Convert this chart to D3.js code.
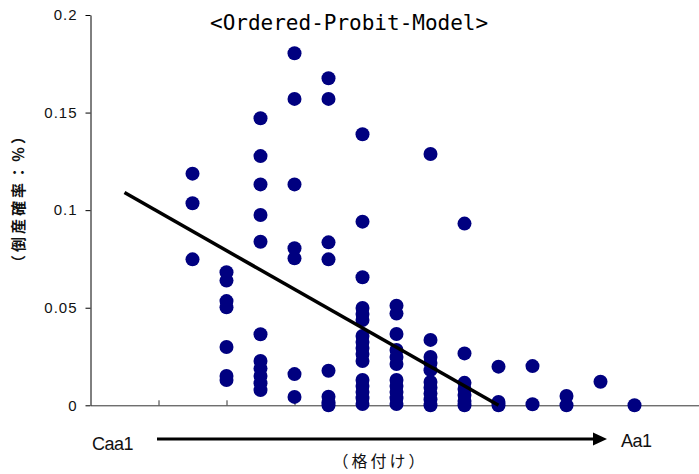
<!DOCTYPE html>
<html>
<head>
<meta charset="utf-8">
<script src="https://cdn.jsdelivr.net/npm/d3@7"></script>
<style>
  html, body { margin: 0; padding: 0; background: #fff; }
  svg { display: block; }
  .cjk { font-family: 'Noto Sans CJK JP', 'Noto Sans CJK SC', sans-serif; }
</style>
</head>
<body>
<svg id="chart" width="699" height="474"></svg>
<script>
// ---- data ----
const chartTitle = "<Ordered-Probit-Model>";
const yAxisTitle = "（倒産確率：％）";
const xAxisTitle = "（格付け）";
const lowRatingLabel = "Caa1";
const highRatingLabel = "Aa1";
const yTickValues = [0, 0.05, 0.1, 0.15, 0.2];
const yTickLabels = ["0", "0.05", "0.1", "0.15", "0.2"];
const xTickValues = [2, 4, 6, 8, 10, 12, 14, 16];
const ratingIndex = [3, 4, 5, 6, 7, 8, 9, 10, 11, 12, 13, 14, 15, 16];
const defaultProb = [
  [0.1187, 0.1035, 0.0748],
  [0.0682, 0.0639, 0.0534, 0.0502, 0.0299, 0.0150, 0.0130],
  [0.1471, 0.1277, 0.1132, 0.0975, 0.0838, 0.0364, 0.0227, 0.0188, 0.0150, 0.0113, 0.0078],
  [0.1804, 0.1570, 0.1132, 0.0805, 0.0753, 0.0160, 0.0043],
  [0.1676, 0.1570, 0.0835, 0.0748, 0.0177, 0.0044, 0.0015, 0.0],
  [0.1389, 0.0941, 0.0656, 0.0499, 0.0468, 0.0437, 0.0355, 0.0324, 0.0294, 0.0263, 0.0227, 0.0130, 0.0099, 0.0068, 0.0037, 0.0007],
  [0.0510, 0.0470, 0.0365, 0.0284, 0.0248, 0.0212, 0.0130, 0.0099, 0.0068, 0.0037, 0.0007],
  [0.1288, 0.0335, 0.0248, 0.0217, 0.0180, 0.0120, 0.0090, 0.0060, 0.0030, 0.0],
  [0.0931, 0.0266, 0.0115, 0.0084, 0.0053, 0.0022, 0.0],
  [0.0198, 0.0017, 0.0],
  [0.0201, 0.0005],
  [0.0048, 0.0],
  [0.0121],
  [0.0]
];
const fitLineX = [1, 12];
const fitLineY = [0.109, 0];

// ---- drawing ----
const svg = d3.select("#chart");
const x = d3.scaleLinear().domain([0, 18]).range([90.5, 702.5]);
const y = d3.scaleLinear().domain([0, 0.2]).range([405.3, 15]);

const points = [];
ratingIndex.forEach((r, i) => defaultProb[i].forEach(v => points.push({ x: r, y: v })));

// y axis
const yAxis = svg.append("g")
  .attr("transform", `translate(${x(0)},0)`)
  .call(d3.axisLeft(y).tickValues(yTickValues)
    .tickFormat((d, i) => yTickLabels[i]).tickSizeInner(5).tickSizeOuter(0).tickPadding(8));
yAxis.select(".domain").attr("stroke", "#000");
yAxis.selectAll(".tick line").attr("stroke", "#000");
yAxis.selectAll("text")
  .attr("font-family", "Liberation Sans, Arial, sans-serif")
  .attr("font-size", 15)
  .attr("letter-spacing", "1px")
  .attr("fill", "#111");

// x axis
const xAxis = svg.append("g")
  .attr("transform", `translate(0,${y(0)})`)
  .call(d3.axisBottom(x).tickValues(xTickValues).tickFormat("")
    .tickSizeInner(-5).tickSizeOuter(0));
xAxis.select(".domain").attr("stroke", "#333");
xAxis.selectAll(".tick line").attr("stroke", "#333");

// dots
svg.append("g").selectAll("circle")
  .data(points)
  .join("circle")
  .attr("cx", d => x(d.x))
  .attr("cy", d => y(d.y))
  .attr("r", 7)
  .attr("fill", "#000080");

// regression line
svg.append("line")
  .attr("x1", x(fitLineX[0])).attr("y1", y(fitLineY[0]))
  .attr("x2", x(fitLineX[1])).attr("y2", y(fitLineY[1]))
  .attr("stroke", "#000").attr("stroke-width", 3.5);

// title
svg.append("text")
  .attr("x", 210).attr("y", 30)
  .attr("font-family", "DejaVu Sans Mono, monospace")
  .attr("font-size", 21)
  .attr("fill", "#000")
  .text(chartTitle);

// y title
svg.append("text")
  .attr("class", "cjk")
  .attr("transform", "translate(24,198) rotate(-90)")
  .attr("text-anchor", "middle")
  .attr("font-size", 15)
  .attr("font-weight", "bold")
  .attr("letter-spacing", "3px")
  .attr("fill", "#111")
  .text(yAxisTitle);

// rating arrow
const arrowY = 439;
svg.append("line")
  .attr("x1", 157).attr("y1", arrowY)
  .attr("x2", 596).attr("y2", arrowY)
  .attr("stroke", "#000").attr("stroke-width", 3);
svg.append("path")
  .attr("d", `M593,${arrowY - 6.5} L607,${arrowY} L593,${arrowY + 6.5} Z`)
  .attr("fill", "#000");

svg.append("text")
  .attr("x", 92).attr("y", 450)
  .attr("font-family", "Liberation Sans, Arial, sans-serif")
  .attr("font-size", 18)
  .attr("letter-spacing", "-0.5px")
  .attr("fill", "#111")
  .text(lowRatingLabel);
svg.append("text")
  .attr("x", 621).attr("y", 447)
  .attr("font-family", "Liberation Sans, Arial, sans-serif")
  .attr("font-size", 18)
  .attr("letter-spacing", "-0.5px")
  .attr("fill", "#111")
  .text(highRatingLabel);

svg.append("text")
  .attr("class", "cjk")
  .attr("x", 380).attr("y", 467)
  .attr("text-anchor", "middle")
  .attr("font-size", 16)
  .attr("letter-spacing", "3px")
  .attr("fill", "#111")
  .text(xAxisTitle);
</script>
</body>
</html>
